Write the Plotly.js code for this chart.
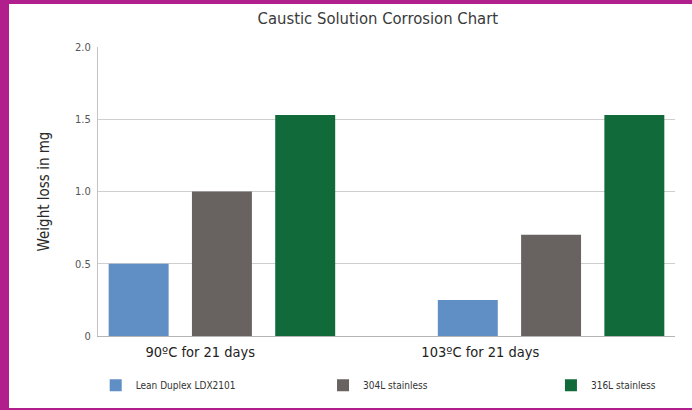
<!DOCTYPE html>
<html>
<head>
<meta charset="utf-8">
<script src="https://cdn.plot.ly/plotly-3.0.1.min.js"></script>
<style>
  html, body { margin: 0; padding: 0; width: 692px; height: 410px; background: #b01f8c; overflow: hidden; }
  #chart { position: absolute; left: 9px; top: 4px; width: 683px; height: 404px; background: #fff; }
</style>
</head>
<body>
<div id="chart"></div>
<script>
// ---- data ----
const conditions = ['90ºC for 21 days', '103ºC for 21 days'];
const seriesNames = ['Lean Duplex LDX2101', '304L stainless', '316L stainless'];
const leanDuplex = [0.50, 0.25];
const s304L = [1.00, 0.70];
const s316L = [1.53, 1.53];
const yTickVals = [0, 0.5, 1.0, 1.5, 2.0];
const yTickText = ['0', '0.5', '1.0', '1.5', '2.0'];

// ---- styling ----
const colors = ['#5f8fc4', '#686360', '#106a3a'];
const font = 'Liberation Sans Narrow, DejaVu Sans Condensed, Arial Narrow, sans-serif';
const labelShift = [-0.066, -0.215]; // label offsets from group centers (as drawn in reference)
const legendIds = ['legend', 'legend2', 'legend3'];
const legendX = [-0.004, 0.390, 0.785];

const xIdx = conditions.map((_, i) => i);
const values = [leanDuplex, s304L, s316L];
const traces = values.map((v, k) => ({
  type: 'bar',
  name: seriesNames[k],
  x: xIdx,
  y: v,
  legend: legendIds[k],
  marker: { color: colors[k] },
  hoverinfo: 'y+name'
}));

const layout = {
  width: 683, height: 404,
  margin: { l: 89, r: 17, t: 43, b: 72, autoexpand: false },
  paper_bgcolor: '#ffffff',
  plot_bgcolor: '#ffffff',
  barmode: 'group',
  bargap: 0.241,
  bargroupgap: 0.28,
  title: {
    text: 'Caustic Solution Corrosion Chart',
    font: { family: font, size: 16.5, color: '#3a3a3a' },
    x: 0.485, xref: 'paper', xanchor: 'center',
    y: 0.965, yref: 'container', yanchor: 'middle'
  },
  xaxis: {
    type: 'linear',
    range: [-0.3765, 1.3765],
    tickmode: 'array',
    tickvals: xIdx.map((i) => i + labelShift[i]),
    ticktext: conditions,
    tickfont: { family: font, size: 14.5, color: '#222' },
    ticklabelstandoff: 3,
    showgrid: false,
    zeroline: false,
    showline: true,
    linecolor: '#b5b5b5',
    linewidth: 1,
    ticks: '',
    fixedrange: true
  },
  yaxis: {
    range: [0, 2],
    tickmode: 'array',
    tickvals: yTickVals,
    ticktext: yTickText,
    tickfont: { family: font, size: 11, color: '#555' },
    showgrid: true,
    gridcolor: '#cfcfcf',
    gridwidth: 1,
    zeroline: false,
    showline: true,
    linecolor: '#c4c4c4',
    ticks: '',
    ticklabelstandoff: 4,
    title: {
      text: 'Weight loss in mg',
      font: { family: font, size: 15, color: '#2a2a2a' },
      standoff: 21
    },
    fixedrange: true
  },
  showlegend: true
};

legendIds.forEach((id, k) => {
  layout[id] = {
    orientation: 'h',
    x: legendX[k], xanchor: 'left',
    y: -0.17, yanchor: 'middle',
    itemwidth: 30,
    font: { family: font, size: 10, color: '#333' },
    bgcolor: 'rgba(0,0,0,0)'
  };
});

Plotly.newPlot('chart', traces, layout, { displayModeBar: false, staticPlot: true });
</script>
</body>
</html>
